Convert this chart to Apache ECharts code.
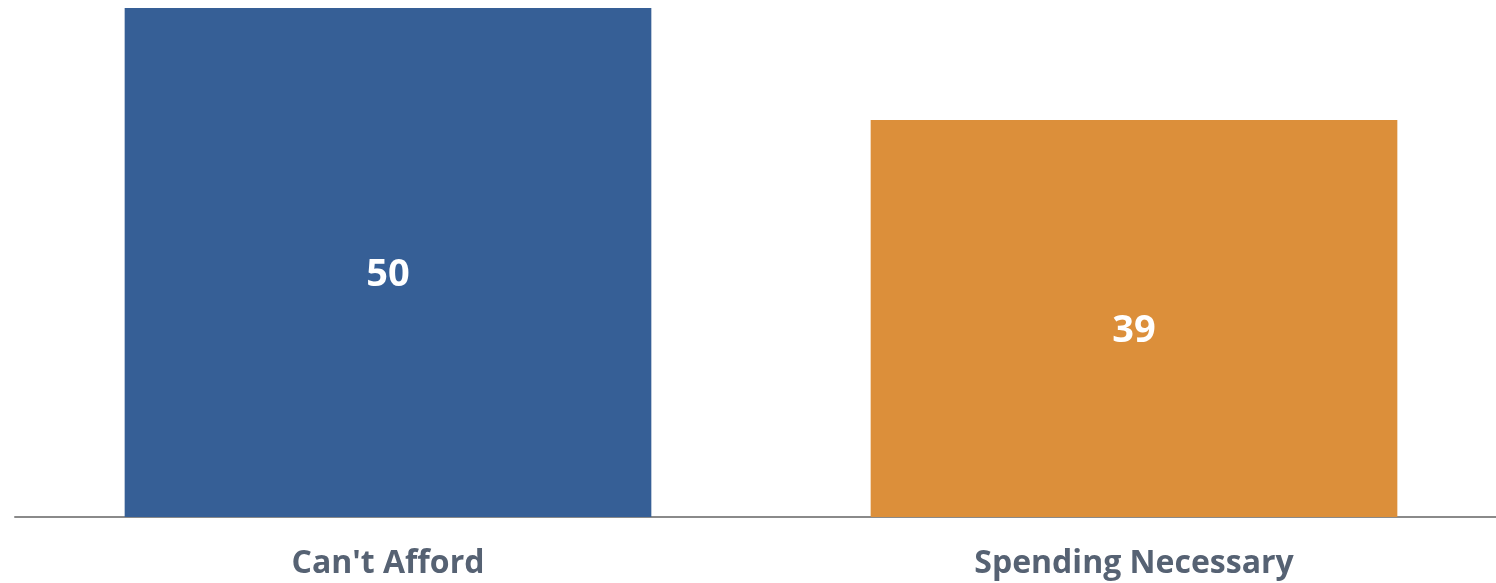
<!DOCTYPE html>
<html><head><meta charset="utf-8">
<script src="https://cdn.jsdelivr.net/npm/echarts@6/dist/echarts.min.js"></script>
<style>html,body{margin:0;padding:0;background:#fff}#c{width:1496px;height:583px}</style>
</head><body><div id="c"></div>
<script>
const categories = ["Can't Afford", "Spending Necessary"];
const values = [50, 39];
const barColors = ['#365f96', '#dc8f3a'];

const chart = echarts.init(document.getElementById('c'), null, {renderer: 'canvas'});
chart.setOption({
  backgroundColor: '#ffffff',
  animation: false,
  grid: {left: 15, right: -11, top: 8, bottom: 66, containLabel: false, outerBoundsMode: 'none'},
  xAxis: {
    type: 'category',
    data: categories,
    axisLine: {show: true, lineStyle: {color: '#8a8a8a', width: 2}},
    axisTick: {show: false},
    axisLabel: {color: '#566273', fontSize: 32, fontWeight: 'bold', fontFamily: 'Open Sans', margin: 31}
  },
  yAxis: {
    type: 'value', min: 0, max: 50,
    show: false, splitLine: {show: false}
  },
  series: [{
    type: 'bar',
    barWidth: '70.6%',
    data: values.map((v, i) => ({value: v, itemStyle: {color: barColors[i]}})),
    label: {show: true, position: 'inside', offset: [0, 13], color: '#ffffff', fontSize: 38, fontWeight: 'bold', fontFamily: 'Open Sans'}
  }]
});
</script></body></html>
